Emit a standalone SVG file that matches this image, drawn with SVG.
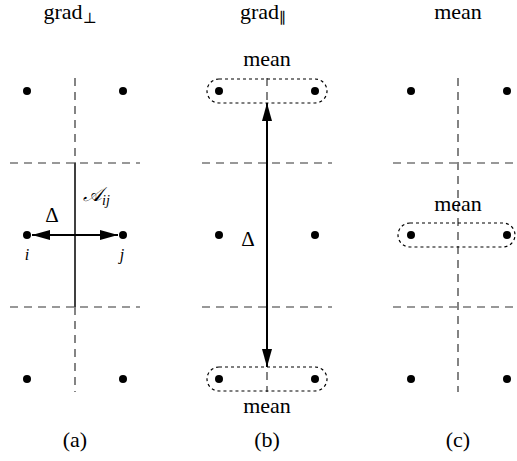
<svg xmlns="http://www.w3.org/2000/svg" width="517" height="461" viewBox="0 0 517 461">
<style>
.t{font-size:22px;fill:#000;text-anchor:middle}
.m{font-style:italic;fill:#000}
.dash{stroke:#333;stroke-width:1.2;stroke-dasharray:8,6;fill:none}
.dot{fill:#000}
.grp{fill:none;stroke:#000;stroke-width:1.2;stroke-dasharray:3,3}
.ar{stroke:#000;stroke-width:2;fill:none}
</style>
<defs>
<marker id="ah" viewBox="0 0 18 10" refX="18" refY="5" markerWidth="18" markerHeight="10" markerUnits="userSpaceOnUse" orient="auto-start-reverse">
<path d="M0,0 L18,5 L0,10 Z" fill="#000"/>
</marker>
</defs>
<g font-family="Liberation Serif, Times New Roman, DejaVu Serif, serif">
<g id="titles">
<text class="t" x="70" y="19">grad<tspan font-size="15" dy="4">⊥</tspan></text>
<text class="t" x="263" y="19">grad<tspan font-size="15" dy="4">∥</tspan></text>
<text class="t" x="458" y="19">mean</text>
<text class="t" x="75" y="447">(a)</text>
<text class="t" x="267" y="447">(b)</text>
<text class="t" x="458" y="447">(c)</text>
</g>
<g id="grid">
<line class="dash" x1="75" y1="78" x2="75" y2="163"/>
<line class="dash" x1="75" y1="307" x2="75" y2="392"/>
<line class="dash" x1="10" y1="163" x2="140" y2="163"/>
<line class="dash" x1="10" y1="307" x2="140" y2="307"/>
<line class="dash" x1="267" y1="78" x2="267" y2="392"/>
<line class="dash" x1="202" y1="163" x2="332" y2="163"/>
<line class="dash" x1="202" y1="307" x2="332" y2="307"/>
<line class="dash" x1="458" y1="78" x2="458" y2="392"/>
<line class="dash" x1="393" y1="163" x2="517" y2="163"/>
<line class="dash" x1="393" y1="307" x2="517" y2="307"/>
</g>
<g id="panel-a">
<circle class="dot" cx="27" cy="91" r="4"/><circle class="dot" cx="123" cy="91" r="4"/>
<circle class="dot" cx="27" cy="235" r="4"/><circle class="dot" cx="123" cy="235" r="4"/>
<circle class="dot" cx="27" cy="379" r="4"/><circle class="dot" cx="123" cy="379" r="4"/>
<line x1="75" y1="163" x2="75" y2="307" stroke="#000" stroke-width="1.5"/>
<text class="m" x="27" y="260" font-size="16" text-anchor="middle">i</text>
<text class="m" x="122" y="260" font-size="16" text-anchor="middle">j</text>
<text x="52" y="222" font-size="21" text-anchor="middle">Δ</text>
<text class="m" x="83" y="201" font-size="20">𝒜<tspan font-size="14" dy="4">ij</tspan></text>
</g>
<g id="panel-b">
<circle class="dot" cx="219" cy="91" r="4"/><circle class="dot" cx="315" cy="91" r="4"/>
<circle class="dot" cx="219" cy="235" r="4"/><circle class="dot" cx="315" cy="235" r="4"/>
<circle class="dot" cx="219" cy="379" r="4"/><circle class="dot" cx="315" cy="379" r="4"/>
<rect class="grp" x="207" y="79" width="120" height="24" rx="12"/>
<rect class="grp" x="207" y="367" width="120" height="24" rx="12"/>
<text class="t" x="267" y="66">mean</text>
<text class="t" x="267" y="413">mean</text>
<text x="248" y="246" font-size="21" text-anchor="middle">Δ</text>
</g>
<g id="panel-c">
<circle class="dot" cx="411" cy="91" r="4"/><circle class="dot" cx="507" cy="91" r="4"/>
<circle class="dot" cx="411" cy="235" r="4"/><circle class="dot" cx="507" cy="235" r="4"/>
<circle class="dot" cx="411" cy="379" r="4"/><circle class="dot" cx="507" cy="379" r="4"/>
<rect class="grp" x="398" y="223" width="117" height="24" rx="12"/>
<text class="t" x="458" y="211">mean</text>
</g>
<g id="connectors">
<line class="ar" x1="32" y1="235" x2="118" y2="235" marker-start="url(#ah)" marker-end="url(#ah)"/>
<line class="ar" x1="267" y1="103" x2="267" y2="367" marker-start="url(#ah)" marker-end="url(#ah)"/>
</g>
</g>
</svg>
